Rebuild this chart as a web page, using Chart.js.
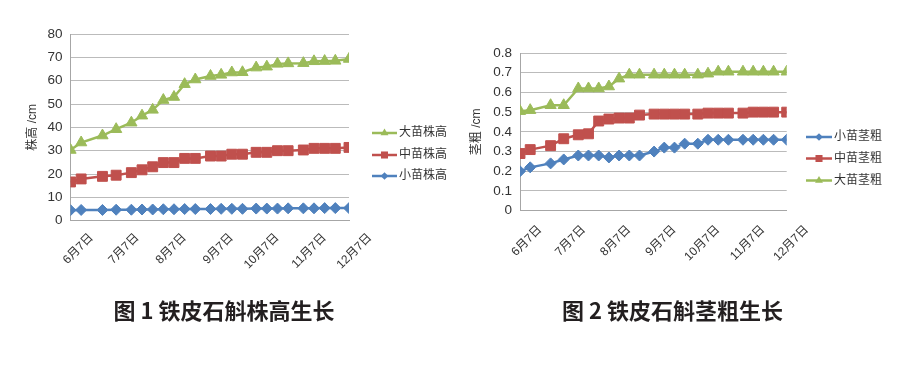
<!DOCTYPE html>
<html><head><meta charset="utf-8">
<script src="https://cdn.jsdelivr.net/npm/chart.js@4.4.0/dist/chart.umd.min.js"></script>
<style>
html,body{margin:0;padding:0;background:#fff;width:910px;height:372px;overflow:hidden;position:relative;}
canvas{position:absolute;top:0;}
#c1{left:0}
#c2{left:455px}
.cap{position:absolute;top:293px;text-align:center;font:bold 22px "Noto Sans CJK SC","Liberation Sans",sans-serif;color:#231f20;white-space:nowrap;}
</style></head><body>
<canvas id="c1" width="455" height="300"></canvas>
<canvas id="c2" width="455" height="300"></canvas>
<div class="cap" style="left:0;width:448px">图 1 铁皮石斛株高生长</div>
<div class="cap" style="left:445px;width:455px">图 2 铁皮石斛茎粗生长</div>
<script>
// ---- data ----
const dates = ["6/7","6/14","6/28","7/7","7/17","7/24","7/31","8/7","8/14","8/21","8/28","9/7","9/14","9/21","9/28","10/7","10/14","10/21","10/28","11/7","11/14","11/21","11/28","12/7"];
const tickDates = ["6/7","7/7","8/7","9/7","10/7","11/7","12/7"];
const tickLabels = ["6月7日","7月7日","8月7日","9月7日","10月7日","11月7日","12月7日"];

const smallHeight = [4.5,4.6,4.6,4.7,4.7,4.8,4.8,4.9,4.9,5.0,5.0,5.0,5.1,5.1,5.1,5.2,5.2,5.2,5.3,5.3,5.3,5.4,5.4,5.4];
const midHeight   = [16.6,17.9,19.0,19.5,20.6,21.8,23.1,24.9,24.9,26.7,26.7,27.7,27.7,28.5,28.5,29.3,29.3,30.0,30.0,30.3,31.0,31.0,31.0,31.4];
const bigHeight   = [30.3,33.5,36.5,39.2,42.0,45.0,47.5,51.7,53.0,58.5,60.5,62.0,62.5,63.5,63.6,65.6,66.0,67.2,67.4,67.5,68.3,68.4,68.5,69.3];

const smallStem = [0.20,0.22,0.24,0.26,0.28,0.28,0.28,0.27,0.28,0.28,0.28,0.30,0.32,0.32,0.34,0.34,0.36,0.36,0.36,0.36,0.36,0.36,0.36,0.36];
const midStem   = [0.29,0.31,0.33,0.365,0.385,0.39,0.455,0.465,0.47,0.47,0.485,0.49,0.49,0.49,0.49,0.49,0.495,0.495,0.495,0.495,0.50,0.50,0.50,0.50];
const bigStem   = [0.505,0.51,0.535,0.535,0.62,0.62,0.62,0.63,0.67,0.69,0.69,0.69,0.69,0.69,0.69,0.69,0.695,0.705,0.705,0.705,0.705,0.705,0.705,0.705];

// ---- helpers ----
function dayOf(s){const p=s.split('/').map(Number);return Date.UTC(2013,p[0]-1,p[1])/86400000;}
const day0 = dayOf(dates[0]);
const xs = dates.map(s=>dayOf(s)-day0);
const tickXs = tickDates.map(s=>dayOf(s)-day0);
const pts = arr => arr.map((v,i)=>({x:xs[i],y:v}));

const FAM = '"Liberation Sans","Noto Sans CJK SC",sans-serif';
const TXT = '#333333';
const BLUE='#4f81bd', RED='#c0504d', GREEN='#9bbb59';

function ds(label,data,color,style,r){
  return {label,data:pts(data),borderColor:color,backgroundColor:color,pointBackgroundColor:color,
    pointBorderColor:color,pointBorderWidth:1,pointStyle:style,pointRadius:r,pointHoverRadius:r,
    borderWidth:2.5,tension:0,fill:false};
}

function drawMarker(ctx,style,x,y,r,color){
  ctx.fillStyle=color;
  ctx.beginPath();
  if(style==='rectRot'){ctx.moveTo(x,y-r);ctx.lineTo(x+r,y);ctx.lineTo(x,y+r);ctx.lineTo(x-r,y);}
  else if(style==='rect'){const s=r*0.72;ctx.rect(x-s,y-s,2*s,2*s);}
  else {ctx.moveTo(x,y-r);ctx.lineTo(x+r*0.87,y+r*0.5);ctx.lineTo(x-r*0.87,y+r*0.5);}
  ctx.closePath();ctx.fill();
}

const lineLegend = {
  id:'lineLegend',
  afterDraw(chart,args,opts){
    const ctx=chart.ctx;ctx.save();
    opts.items.forEach((idx,k)=>{
      const d=chart.data.datasets[idx];const y=opts.ys[k];
      ctx.strokeStyle=d.borderColor;ctx.lineWidth=2.5;
      ctx.beginPath();ctx.moveTo(opts.x0,y);ctx.lineTo(opts.x1,y);ctx.stroke();
      drawMarker(ctx,d.pointStyle,(opts.x0+opts.x1)/2,y,d.pointRadius*0.7,d.borderColor);
      ctx.fillStyle=TXT;ctx.font='12px '+FAM;ctx.textBaseline='middle';ctx.textAlign='left';
      ctx.fillText(d.label,opts.x1+2,y);
    });
    ctx.restore();
  }
};

function makeOpts(cfg){
  return {
    responsive:false,animation:false,
    layout:{padding:cfg.pad},
    plugins:{legend:{display:false},tooltip:{enabled:false},lineLegend:cfg.legend},
    scales:{
      x:{type:'linear',min:0,max:tickXs[tickXs.length-1],
        grid:{display:false},border:{display:true,color:'#a6a6a6',width:1},
        ticks:{autoSkip:false,minRotation:45,maxRotation:45,padding:cfg.xPad,labelOffset:cfg.xOff,color:TXT,
          font:{size:12,family:FAM},callback:(v,i)=>tickLabels[i]},
        afterBuildTicks(s){s.ticks=tickXs.map(v=>({value:v}));},
        afterFit(s){s.height=cfg.xH;}
      },
      y:{min:0,max:cfg.yMax,
        ticks:{stepSize:cfg.yStep,padding:8,color:TXT,font:{size:13.5,family:FAM}},
        grid:{color:'#bbbbbb',lineWidth:1,drawTicks:false},
        border:{display:true,color:'#a6a6a6',width:1},
        title:{display:true,text:cfg.yTitle,color:TXT,font:{size:12,family:FAM},padding:{top:cfg.tPad,bottom:0}},
        afterFit(s){s.width=cfg.yW;}
      }
    }
  };
}

new Chart(document.getElementById('c1'),{
  type:'line',
  data:{datasets:[
    ds('小苗株高',smallHeight,BLUE,'rectRot',5.5),
    ds('中苗株高',midHeight,RED,'rect',7),
    ds('大苗株高',bigHeight,GREEN,'triangle',6.5)
  ]},
  options:makeOpts({pad:{left:0,top:34,right:106,bottom:0},xH:79.3,xPad:2,xOff:21,yMax:80,yStep:10,
    yTitle:'株高 /cm',tPad:25,yW:70.5,legend:{items:[2,1,0],x0:372,x1:397,ys:[133,155,176]}}),
  plugins:[lineLegend]
});

new Chart(document.getElementById('c2'),{
  type:'line',
  data:{datasets:[
    ds('小苗茎粗',smallStem,BLUE,'rectRot',5.5),
    ds('中苗茎粗',midStem,RED,'rect',7),
    ds('大苗茎粗',bigStem,GREEN,'triangle',6.5)
  ]},
  options:makeOpts({pad:{left:0,top:53,right:123.3,bottom:0},xH:89.3,xPad:4,xOff:20,yMax:0.8,yStep:0.1,
    yTitle:'茎粗 /cm',tPad:14,yW:65,legend:{items:[0,1,2],x0:351,x1:377,ys:[137,158.5,180.5]}}),
  plugins:[lineLegend]
});
</script>
</body></html>
